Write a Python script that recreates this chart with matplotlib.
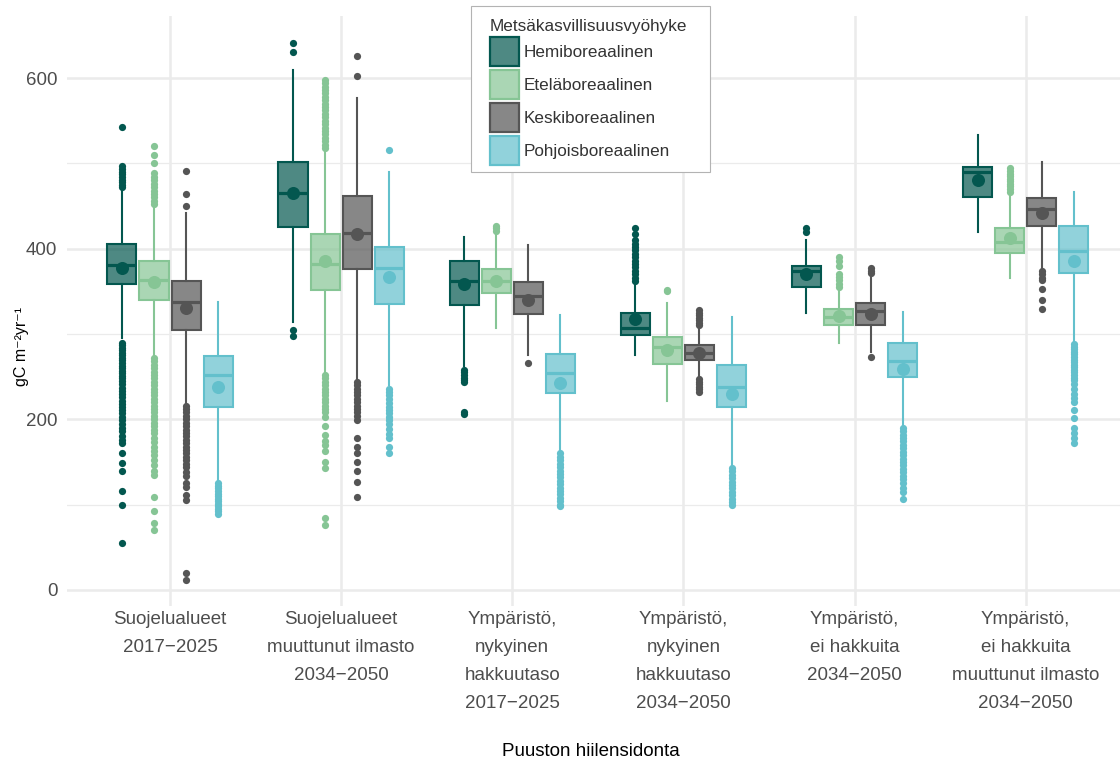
import numpy as np
import matplotlib
matplotlib.use("Agg")
import matplotlib.pyplot as plt
from matplotlib.patches import Patch, Rectangle
from matplotlib.colors import to_rgba

plt.rcParams['font.family'] = ['Liberation Sans', 'DejaVu Sans']

# scenario groups on the x axis
groups = [
    "Suojelualueet\n2017\u22122025",
    "Suojelualueet\nmuuttunut ilmasto\n2034\u22122050",
    "Ympäristö,\nnykyinen\nhakkuutaso\n2017\u22122025",
    "Ympäristö,\nnykyinen\nhakkuutaso\n2034\u22122050",
    "Ympäristö,\nei hakkuita\n2034\u22122050",
    "Ympäristö,\nei hakkuita\nmuuttunut ilmasto\n2034\u22122050",
]

zones = ["Hemiboreaalinen", "Eteläboreaalinen", "Keskiboreaalinen", "Pohjoisboreaalinen"]
zone_colors = ["#03574F", "#86C595", "#555555", "#63C0CC"]

# box statistics per zone, one value per group
hemi_q1 = [359, 425, 334, 299, 355, 461]
hemi_med = [381, 465, 362, 307, 374, 490]
hemi_q3 = [405, 502, 385, 325, 380, 496]
hemi_lo = [295, 314, 262, 275, 325, 420]
hemi_hi = [469, 609, 414, 359, 410, 533]
hemi_mean = [377, 465, 359, 318, 370, 480]
hemi_fliers = [
    [472, 475, 478, 481, 484, 487, 490, 493, 497, 543,
     290, 287, 284, 281, 278, 275, 272, 269, 266, 263, 260, 257, 254, 251, 248,
     245, 241, 237, 233, 230, 226, 222, 218, 214, 211, 207, 203, 199, 195, 190,
     186, 181, 176, 172, 161, 149, 139, 116, 99, 55],
    [631, 641, 305, 298],
    [258, 255, 252, 249, 246, 244, 208, 206],
    [362, 366, 370, 374, 378, 382, 386, 390, 394, 398, 402, 406, 410, 417, 424],
    [420, 424],
    [],
]

etela_q1 = [340, 351, 348, 265, 310, 395]
etela_med = [363, 382, 362, 285, 320, 408]
etela_q3 = [385, 417, 376, 296, 329, 424]
etela_lo = [275, 255, 307, 221, 290, 366]
etela_hi = [449, 514, 418, 336, 351, 463]
etela_mean = [361, 386, 362, 281, 321, 412]
etela_fliers = [
    [452, 456, 460, 464, 468, 472, 476, 480, 484, 489, 500, 510, 520,
     272, 268, 264, 260, 256, 252, 248, 244, 240, 236, 232, 228, 224, 220, 216,
     212, 208, 204, 200, 196, 192, 188, 184, 178, 173, 168, 163, 158, 152, 147,
     140, 135, 109, 93, 78, 70],
    [518, 522, 526, 530, 534, 538, 542, 546, 550, 554, 558, 562, 566, 570, 574,
     578, 582, 586, 590, 594, 598,
     252, 248, 244, 240, 236, 232, 228, 224, 220, 216, 212, 208, 203, 192, 182,
     175, 170, 163, 150, 143, 84, 76],
    [421, 424, 427],
    [350, 352],
    [355, 359, 363, 367, 370, 380, 385, 390],
    [467, 470, 473, 476, 479, 482, 485, 488, 491, 494],
]

kesk_q1 = [305, 376, 324, 270, 310, 427]
kesk_med = [337, 418, 345, 278, 327, 446]
kesk_q3 = [362, 462, 361, 287, 336, 459]
kesk_lo = [219, 246, 275, 250, 279, 377]
kesk_hi = [442, 577, 404, 306, 367, 502]
kesk_mean = [331, 417, 340, 278, 323, 442]
kesk_fliers = [
    [450, 464, 491,
     216, 212, 208, 204, 200, 196, 192, 188, 184, 180, 176, 172, 168, 164, 160,
     156, 152, 148, 144, 138, 134, 125, 121, 111, 105, 20, 12],
    [602, 626,
     244, 240, 236, 232, 228, 224, 220, 216, 212, 208, 204, 199, 178, 168, 160,
     150, 139, 126, 109],
    [266],
    [310, 313, 316, 319, 322, 325, 328, 247, 244, 241, 238, 235, 232],
    [371, 374, 377, 273],
    [374, 370, 366, 363, 353, 340, 329],
]

pohj_q1 = [214, 335, 231, 215, 250, 372]
pohj_med = [252, 377, 254, 238, 268, 397]
pohj_q3 = [274, 402, 277, 264, 290, 427]
pohj_lo = [127, 240, 162, 147, 193, 291]
pohj_hi = [338, 490, 322, 320, 326, 466]
pohj_mean = [238, 367, 242, 230, 259, 386]
pohj_fliers = [
    [125, 122, 119, 116, 113, 110, 107, 104, 101, 98, 95, 92, 89],
    [516, 236, 232, 228, 224, 219, 215, 211, 207, 203, 199, 194, 189, 183, 178,
     168, 160],
    [160, 156, 152, 148, 144, 140, 136, 132, 128, 124, 120, 116, 112, 108, 104,
     100, 98],
    [143, 139, 135, 131, 127, 123, 119, 115, 111, 107, 103, 99],
    [190, 186, 182, 178, 174, 170, 166, 162, 158, 154, 150, 146, 142, 138, 134,
     130, 125, 120, 115, 107],
    [288, 285, 282, 279, 276, 273, 270, 267, 264, 261, 258, 255, 252, 249, 246,
     241, 236, 230, 225, 220, 211, 201, 190, 184, 178, 172],
]

zone_stats = [
    (hemi_q1, hemi_med, hemi_q3, hemi_lo, hemi_hi, hemi_mean, hemi_fliers),
    (etela_q1, etela_med, etela_q3, etela_lo, etela_hi, etela_mean, etela_fliers),
    (kesk_q1, kesk_med, kesk_q3, kesk_lo, kesk_hi, kesk_mean, kesk_fliers),
    (pohj_q1, pohj_med, pohj_q3, pohj_lo, pohj_hi, pohj_mean, pohj_fliers),
]

W, H = 1120, 760
fig = plt.figure(figsize=(W / 100, H / 100), dpi=100)
ax = fig.add_axes([67 / W, (H - 606) / H, 1061.4 / W, 590 / H])

x = np.arange(1, len(groups) + 1)
dodge = 0.75 / len(zones)

for k, (c, st) in enumerate(zip(zone_colors, zone_stats)):
    q1, med, q3, lo, hi, mean, fl = st
    stats = []
    for i in range(len(groups)):
        stats.append(dict(q1=q1[i], med=med[i], q3=q3[i], whislo=lo[i],
                          whishi=hi[i], mean=mean[i], fliers=np.array(fl[i], float)))
    pos = x + (k - 1.5) * dodge
    ax.bxp(stats, positions=pos, widths=0.17, patch_artist=True,
           showmeans=True, showcaps=False, manage_ticks=False, zorder=3 + k,
           boxprops=dict(facecolor=to_rgba(c, 0.7), edgecolor=c, linewidth=1.5),
           medianprops=dict(color=c, linewidth=2.3, solid_capstyle='butt'),
           whiskerprops=dict(color=c, linewidth=1.5),
           flierprops=dict(marker='o', markerfacecolor=c, markeredgecolor='none',
                           markersize=5.2),
           meanprops=dict(marker='o', markerfacecolor=c, markeredgecolor='none',
                          markersize=9.4))

ax.set_xlim(0.398, 6.6)
ax.set_ylim(-18.8, 672.7)
ax.set_xticks(x)
ax.set_xticklabels(groups, fontsize=13.5, color='#4D4D4D')
for t in ax.get_xticklabels():
    t.set_linespacing(1.86)
ax.set_yticks([0, 200, 400, 600])
ax.set_yticks([100, 300, 500], minor=True)
ax.tick_params(axis='y', which='both', length=0, pad=7, labelsize=13.5, labelcolor='#4D4D4D')
ax.tick_params(axis='x', which='both', length=0, pad=3.4)
ax.set_axisbelow(True)
ax.grid(which='major', color='#EBEBEB', linewidth=1.8)
ax.grid(which='minor', axis='y', color='#EBEBEB', linewidth=0.9)
for s in ax.spines.values():
    s.set_visible(False)

fig.text(22 / W, (H - 346) / H, 'gC m\u207b\u00b2yr\u207b\u00b9', rotation=90,
         ha='center', va='center', fontsize=11.5, color='black')
fig.text(591 / W, (H - 756) / H, 'Puuston hiilensidonta', ha='center',
         va='baseline', fontsize=13.5, color='black')

# legend frame drawn separately so the inner margins can be set freely
fig.add_artist(Rectangle((471 / W, (H - 172) / H), (710 - 471) / W, (172 - 6) / H,
                         transform=fig.transFigure, facecolor='white',
                         edgecolor='#B3B3B3', linewidth=0.8, zorder=4))
handles = [Patch(facecolor=to_rgba(c, 0.7), edgecolor=c, linewidth=1.6)
           for c in zone_colors]
leg = fig.legend(handles, zones, title='Metsäkasvillisuusvyöhyke', loc='upper left',
                 bbox_to_anchor=(481 / W, (H - 10) / H), frameon=False, borderpad=0,
                 fontsize=12.3, title_fontsize=12.3, handlelength=1.7, handleheight=2.23,
                 labelspacing=0.23, handletextpad=0.3, alignment='left')
for t in leg.get_texts():
    t.set_color('#333333')
leg.get_title().set_color('#333333')
leg.set_zorder(6)

fig.savefig('out.png', dpi=100)
